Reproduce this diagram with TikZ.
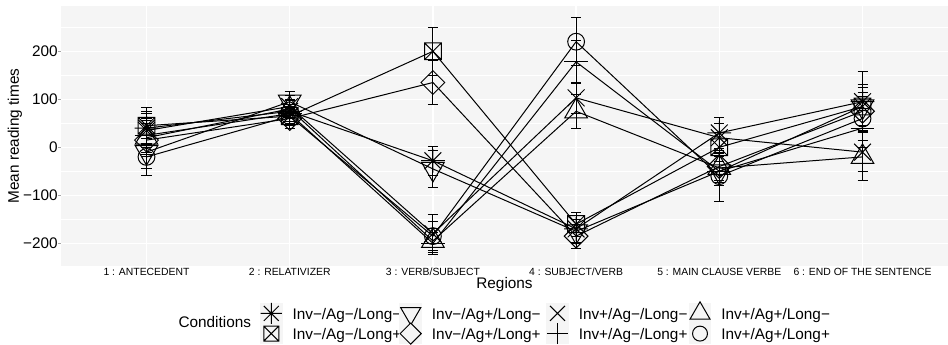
\documentclass[tikz,border=0pt]{standalone}
\usepackage{fontspec}
\setmainfont{Liberation Sans}

\definecolor{panelbg}{RGB}{245,245,245}

\tikzset{
  mkline/.style={line width=0.75pt},
  gridmaj/.style={white, line width=1.1pt},
  gridmin/.style={white, line width=0.5pt},
  bigfont/.style={font=\fontsize{11.5}{13}\selectfont, inner sep=0pt},
  reglab/.style={font=\fontsize{7.8}{9}\selectfont, inner sep=0pt, anchor=base},
  legtext/.style={bigfont, anchor=base west},
  mkstar/.pic={\draw[mkline] (-\mr,-\mr) -- (\mr,\mr) (-\mr,\mr) -- (\mr,-\mr)
    (-1.414*\mr,0pt) -- (1.414*\mr,0pt) (0pt,-1.414*\mr) -- (0pt,1.414*\mr);},
  mkboxx/.pic={\draw[mkline] (-\mr,-\mr) rectangle (\mr,\mr)
    (-\mr,-\mr) -- (\mr,\mr) (-\mr,\mr) -- (\mr,-\mr);},
  mktridown/.pic={\draw[mkline] (0pt,-1.555*\mr) -- (1.347*\mr,0.778*\mr) -- (-1.347*\mr,0.778*\mr) -- cycle;},
  mkdiam/.pic={\draw[mkline] (0pt,-1.414*\mr) -- (1.414*\mr,0pt) -- (0pt,1.414*\mr) -- (-1.414*\mr,0pt) -- cycle;},
  mkcross/.pic={\draw[mkline] (-\mr,-\mr) -- (\mr,\mr) (-\mr,\mr) -- (\mr,-\mr);},
  mkplus/.pic={\draw[mkline] (-1.414*\mr,0pt) -- (1.414*\mr,0pt) (0pt,-1.414*\mr) -- (0pt,1.414*\mr);},
  mktriup/.pic={\draw[mkline] (0pt,1.555*\mr) -- (1.347*\mr,-0.778*\mr) -- (-1.347*\mr,-0.778*\mr) -- cycle;},
  mkring/.pic={\draw[mkline] (0pt,0pt) circle[radius=\mr];},
}

\begin{document}
\begin{tikzpicture}[x=0.75pt, y=-0.75pt]
  \useasboundingbox (0,0) rectangle (948,344);

  \begin{scope}[shift={(3.3,147.3)}, x=107.4pt, y=0.36pt]
    \def\mr{6.3pt}
    \fill[panelbg] (0.4,-248) rectangle (6.6,294);
    \foreach \v in {-150,-50,50,150,250}
      \draw[gridmin] (0.4,\v) -- (6.6,\v);
    \foreach \v in {-200,-100,...,200}
      \draw[gridmaj] (0.4,\v) -- (6.6,\v);
    \foreach \i in {1,...,6}
      \draw[gridmaj] (\i,-248) -- (\i,294);

    \foreach \v/\t in {-200/−200,-100/−100,0/0,100/100,200/200} {
      \draw[gray!70, line width=0.4pt] (0.4,\v) -- ++(-1.6pt,0pt);
      \node[bigfont, anchor=east, xshift=-2pt] (yt\v) at (0.4,\v) {\t};
    }

    % mean / se per region, one row per condition
    \foreach \c/\shp/\vals in {
        1/mkstar/{40/35,75/22,-28/30,-170/28,30/32,95/62},
        2/mkboxx/{45/37,65/20,200/50,-160/25,0/30,85/45},
        3/mktridown/{-10/35,95/22,-45/38,-175/25,-50/30,85/40},
        4/mkdiam/{15/35,60/20,135/45,-185/25,-40/30,75/40},
        5/mkcross/{35/35,85/22,-180/40,103/32,20/30,-10/40},
        6/mkplus/{25/35,70/20,-200/23,178/45,-50/30,40/40},
        7/mktriup/{20/35,80/20,-195/25,75/35,-43/30,-20/50},
        8/mkring/{-20/38,65/20,-185/30,220/50,-60/53,60/45}} {
      \foreach \m/\e [count=\i] in \vals {
        \coordinate (c\c r\i) at (\i,\m);
        \draw[mkline] (\i,\m-\e) -- (\i,\m+\e)
          (\i-0.035,\m-\e) -- (\i+0.035,\m-\e)
          (\i-0.035,\m+\e) -- (\i+0.035,\m+\e);
        \pic at (c\c r\i) {\shp};
      }
    }
    \foreach \c in {1,...,8}
      \draw[mkline] (c\c r1) -- (c\c r2) -- (c\c r3) -- (c\c r4) -- (c\c r5) -- (c\c r6);
  \end{scope}

  \foreach \t [count=\i] in {1 : ANTECEDENT, 2 : RELATIVIZER, 3 : VERB/SUBJECT,
      4 : SUBJECT/VERB, 5 : MAIN CLAUSE VERBE, 6 : END OF THE SENTENCE}
    \node[reglab] (reg\i) at (3.3+143.2*\i,275.8) {\t};

  \node[bigfont] (xtitle) at (504.5,285) {Regions};
  \node[bigfont, rotate=90] (ytitle) at (15,136) {Mean reading times};

  % legend
  \begin{scope}
    \def\mr{5.6pt}
    \node[legtext] (legtitle) at (178.3,327) {Conditions};
    \foreach \shp/\x/\y/\lab [count=\k] in {
        mkstar/271.3/313.4/{Inv−/Ag−/Long−},
        mkboxx/271.3/333.6/{Inv−/Ag−/Long+},
        mktridown/410.7/313.4/{Inv−/Ag+/Long−},
        mkdiam/410.7/333.6/{Inv−/Ag+/Long+},
        mkcross/557.5/313.4/{Inv+/Ag−/Long−},
        mkplus/557.5/333.6/{Inv+/Ag−/Long+},
        mktriup/700/313.4/{Inv+/Ag+/Long−},
        mkring/700/333.6/{Inv+/Ag+/Long+}} {
      \fill[panelbg] (\x-11.3,\y-10.1) rectangle (\x+11.3,\y+10.1);
      \pic at (\x,\y) {\shp};
      \node[legtext] (lab\k) at (\x+21,\y+5.8) {\lab};
    }
  \end{scope}
\end{tikzpicture}
\end{document}
